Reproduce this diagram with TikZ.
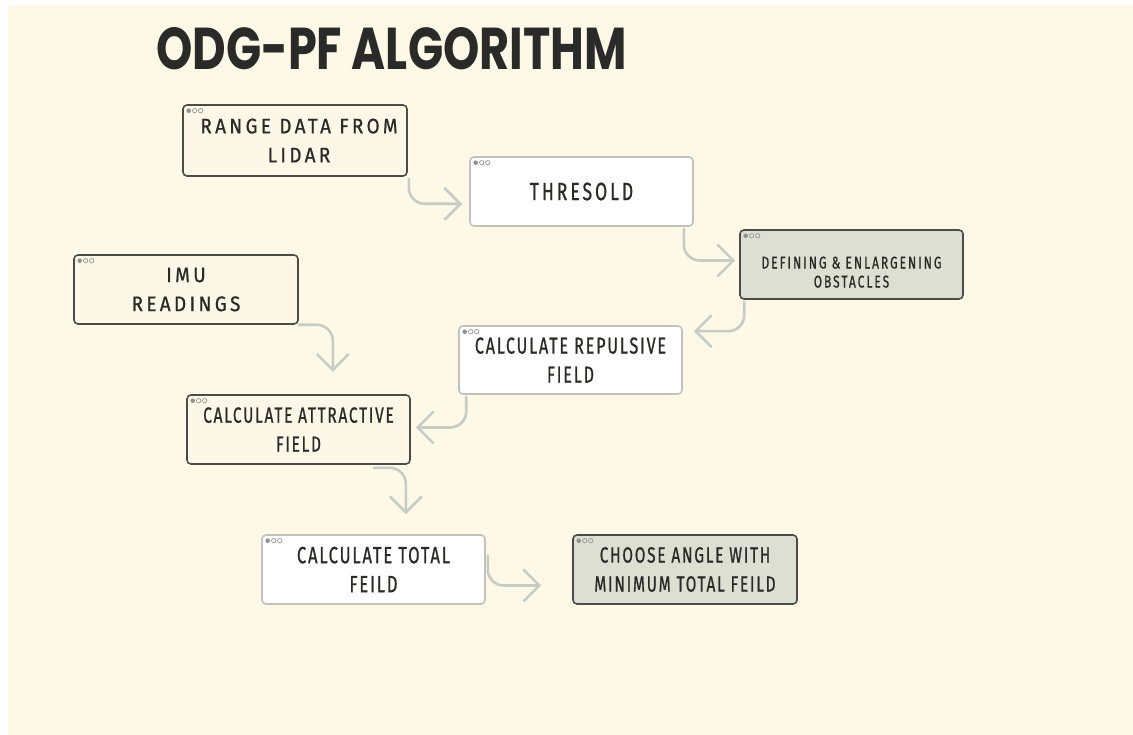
\documentclass[tikz,border=0pt]{standalone}
\usepackage{fontspec}
\usetikzlibrary{arrows.meta,calc}
\newfontfamily\wideboxfont[FakeStretch=0.9,LetterSpace=16,FakeBold=0.8]{Fira Sans}
\newfontfamily\boxfont[FakeStretch=0.7,LetterSpace=8,FakeBold=0.8]{Fira Sans}
\newfontfamily\spacedboxfont[FakeStretch=0.7,LetterSpace=12,FakeBold=0.8]{Fira Sans}
\newfontfamily\titlefont[FakeStretch=0.783]{Poppins}
\definecolor{bgcream}{HTML}{FEF8E6}
\definecolor{boxcream}{HTML}{FDF7E8}
\definecolor{boxgray}{HTML}{DEDFD3}
\definecolor{darkline}{HTML}{4C4C47}
\definecolor{lightline}{HTML}{C2C2BA}
\definecolor{conncol}{HTML}{C6CDC5}
\definecolor{txt}{HTML}{2A2A28}
\tikzset{
  basebox/.style={rectangle, rounded corners=4pt, line width=1.6pt, align=center,
    inner sep=0pt, text=txt, font=\boxfont\fontsize{22}{29}\selectfont},
  darkbox/.style={basebox, draw=darkline, fill=boxcream},
  graybox/.style={basebox, draw=darkline, fill=boxgray},
  whitebox/.style={basebox, draw=lightline, fill=white},
  conn/.style={draw=conncol, line width=2.6pt, rounded corners=16pt, line cap=round,
    -{Straight Barb[length=16pt,width=32pt,line width=2.6pt]}},
  dotopen/.style={draw=gray!80, line width=0.7pt}
}
\begin{document}
\begin{tikzpicture}[x=1pt,y=-1pt]
\useasboundingbox (0,0) rectangle (1133,735);
\fill[white] (0,0) rectangle (1133,735);
\fill[bgcream] (8,6) rectangle (1133,735);

\node[anchor=west, text=txt, font=\titlefont\bfseries\fontsize{59}{59}\selectfont, inner sep=0pt] (title) at (156,49) {ODG-PF ALGORITHM};

\node[darkbox, minimum width=224pt, minimum height=71pt, font=\wideboxfont\fontsize{21}{29}\selectfont] (lidar) at (295,140.5) {\hspace*{8pt}RANGE DATA FROM\\\hspace*{8pt}LIDAR};
\node[whitebox, minimum width=223pt, minimum height=69pt, font=\spacedboxfont\fontsize{25}{29}\selectfont] (thr) at (581.5,191.5) {THRESOLD};
\node[graybox, minimum width=223pt, minimum height=69pt, font=\spacedboxfont\fontsize{17}{19}\selectfont] (defs) at (851.5,264.5) {\raisebox{-12pt}[0pt][0pt]{\parbox{223pt}{\centering DEFINING \& ENLARGENING\\OBSTACLES}}};
\node[darkbox, minimum width=224pt, minimum height=69pt, font=\wideboxfont\fontsize{21}{29}\selectfont] (imu) at (186,289.5) {IMU\\READINGS};
\node[whitebox, minimum width=223pt, minimum height=68pt, font=\boxfont\fontsize{23}{29}\selectfont] (rep) at (570.5,360) {CALCULATE REPULSIVE\\FIELD};
\node[darkbox, minimum width=223pt, minimum height=69pt] (attr) at (298.5,429.5) {CALCULATE ATTRACTIVE\\FIELD};
\node[whitebox, minimum width=223pt, minimum height=69pt, font=\boxfont\fontsize{23.5}{29}\selectfont] (total) at (373.5,569.5) {CALCULATE TOTAL\\FEILD};
\node[graybox, minimum width=224pt, minimum height=69pt] (choose) at (685,569.5) {CHOOSE ANGLE WITH\\MINIMUM TOTAL FEILD};

\foreach \n in {lidar,thr,defs,imu,rep,attr,total,choose}{
  \fill[gray!85] ([shift={(6.5,6.5)}]\n.north west) circle (2.3pt);
  \draw[dotopen] ([shift={(12.5,6.5)}]\n.north west) circle (2.2pt);
  \draw[dotopen] ([shift={(18.5,6.5)}]\n.north west) circle (2.2pt);
}

\draw[conn] ([shift={(1,2)}]lidar.south east) |- ([shift={(-7,-23)}]thr.south west);
\draw[conn] ([shift={(-10,2)}]thr.south east) |- ([shift={(-4,-4)}]defs.west);
\draw[conn] ([shift={(5,2)}]defs.south west) |- ([shift={(11,6)}]rep.north east);
\draw[conn] ([shift={(0,0)}]imu.south east) -| ([shift={(34,47)}]imu.south east);
\draw[conn] ([shift={(8,2)}]rep.south west) |- ([shift={(5,-2)}]attr.east);
\draw[conn] ([shift={(-37,3)}]attr.south east) -| ([shift={(-80,-20)}]total.north east);
\draw[conn] ([shift={(2,-14)}]total.east) |- ([shift={(-31,16)}]choose.west);
\end{tikzpicture}
\end{document}
